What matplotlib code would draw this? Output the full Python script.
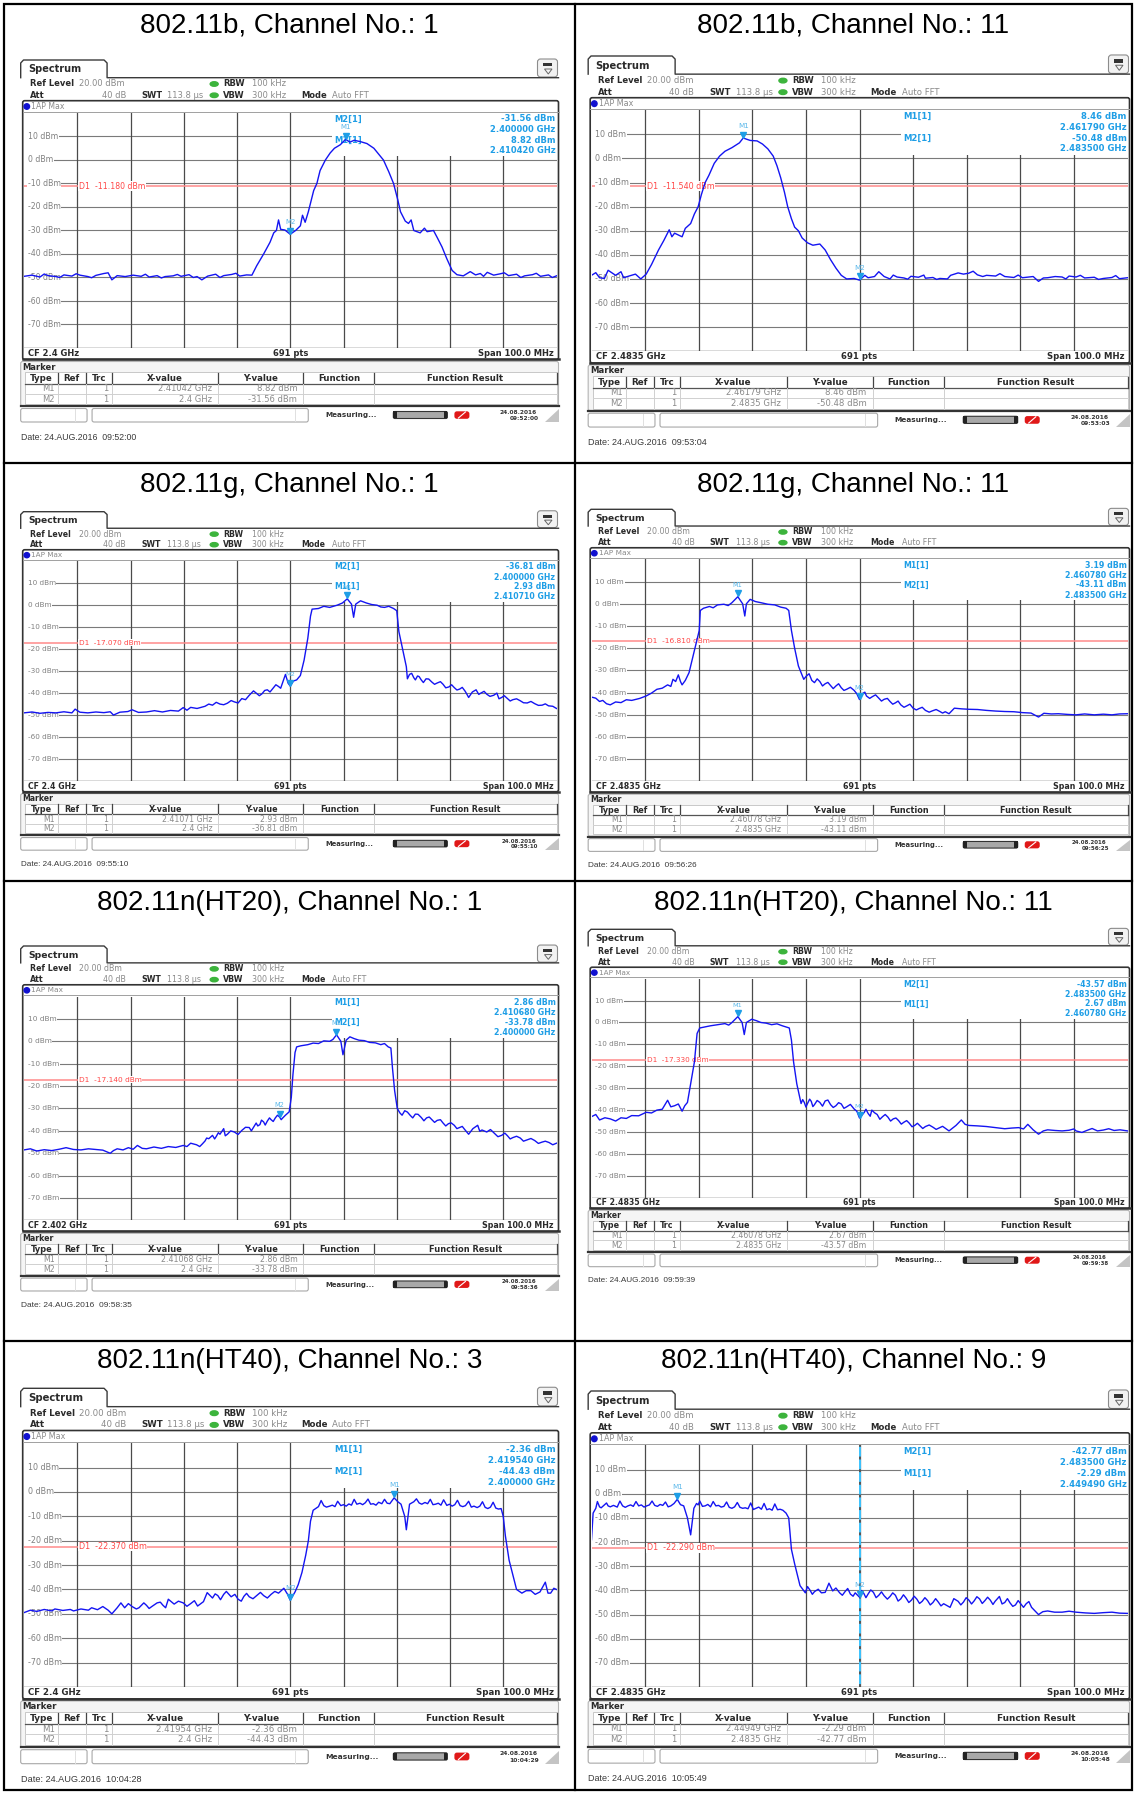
import numpy as np
import matplotlib
matplotlib.use('Agg')
import matplotlib.pyplot as plt
from matplotlib.patches import Rectangle, FancyBboxPatch, Polygon, Ellipse

W, H = 1136, 1794

# ---------------- measurement data ----------------
titles = ['802.11b, Channel No.: 1', '802.11b, Channel No.: 11',
          '802.11g, Channel No.: 1', '802.11g, Channel No.: 11',
          '802.11n(HT20), Channel No.: 1', '802.11n(HT20), Channel No.: 11',
          '802.11n(HT40), Channel No.: 3', '802.11n(HT40), Channel No.: 9']
cf_ghz = [2.4, 2.4835, 2.4, 2.4835, 2.402, 2.4835, 2.4, 2.4835]
cf_labels = ['CF 2.4 GHz', 'CF 2.4835 GHz', 'CF 2.4 GHz', 'CF 2.4835 GHz',
             'CF 2.402 GHz', 'CF 2.4835 GHz', 'CF 2.4 GHz', 'CF 2.4835 GHz']
d1_dbm = [-11.18, -11.54, -17.07, -16.81, -17.14, -17.33, -22.37, -22.29]
m1_ghz = [2.41042, 2.46179, 2.41071, 2.46078, 2.41068, 2.46078, 2.41954, 2.44949]
m1_dbm = [8.82, 8.46, 2.93, 3.19, 2.86, 2.67, -2.36, -2.29]
m2_ghz = [2.4, 2.4835, 2.4, 2.4835, 2.4, 2.4835, 2.4, 2.4835]
m2_dbm = [-31.56, -50.48, -36.81, -43.11, -33.78, -43.57, -44.43, -42.77]
info_first = ['M2', 'M1', 'M2', 'M1', 'M1', 'M2', 'M1', 'M2']
date_stamps = ['09:52:00', '09:53:04', '09:55:10', '09:56:26',
               '09:58:35', '09:59:39', '10:04:28', '10:05:49']
clock_stamps = ['09:52:00', '09:53:03', '09:55:10', '09:56:25',
                '09:58:36', '09:59:38', '10:04:29', '10:05:48']

# traces: (offset from CF in MHz, level in dBm)
trace_b1 = [(-50, -49.5), (-48.5, -49.0), (-47, -49.8), (-46.2, -48.5), (-45.5, -49.2), (-44, -49.6),
            (-43.3, -50.0), (-42.5, -48.9), (-41, -49.4), (-40.2, -48.4), (-39.5, -49.0), (-38, -49.6),
            (-37.3, -50.1), (-36.5, -49.1), (-35, -48.3), (-34.2, -48.0), (-33.5, -51.0), (-32.5, -49.2),
            (-31, -49.6), (-29.5, -49.0), (-28, -49.5), (-27.2, -48.6), (-26.5, -49.8), (-25, -49.2),
            (-24.2, -50.2), (-23.5, -49.6), (-22, -49.3), (-21.2, -48.7), (-20.5, -49.5), (-19, -48.8),
            (-18.2, -50.0), (-17.5, -49.6), (-16.6, -51.0), (-15.5, -49.4), (-14, -48.6), (-13.2, -50.0),
            (-12.5, -49.2), (-11, -48.7), (-10.2, -48.2), (-9.5, -49.4), (-8.2, -48.9), (-7.2, -49.0),
            (-6.3, -45.0), (-5.0, -40.0), (-3.8, -35.0), (-3.1, -31.0), (-2.6, -30.0), (-2.2, -25.5),
            (-1.8, -29.5), (-1.0, -29.8), (0, -31.6), (1.0, -30.0), (1.9, -28.0), (2.3, -23.5),
            (2.8, -26.5), (3.4, -22.0), (4.4, -13.0), (5.0, -10.0), (5.6, -4.5), (6.6, 0.0), (7.5, 3.0),
            (8.3, 5.0), (9.4, 6.5), (10.4, 8.8), (11.2, 7.6), (12.0, 8.4), (13.2, 7.8), (14.4, 7.0),
            (15.7, 5.0), (16.6, 2.5), (17.5, 0.0), (18.5, -5.0), (19.4, -10.0), (20.2, -17.0),
            (20.7, -22.0), (21.6, -26.0), (22.2, -27.0), (22.7, -25.5), (23.2, -30.0), (24.4, -31.0),
            (25.2, -29.0), (25.7, -30.5), (26.9, -30.0), (27.6, -33.0), (28.5, -37.0), (29.4, -42.0),
            (30.4, -47.0), (31.3, -48.8), (32.5, -49.3), (33.8, -47.5), (34.8, -48.9), (35.7, -48.3),
            (36.3, -49.5), (37, -47.8), (38.2, -49.0), (39.5, -48.4), (40.2, -48.0), (41, -49.2),
            (42.5, -48.6), (43.3, -50.0), (44, -49.3), (45.5, -48.8), (46.2, -48.2), (47, -49.5),
            (48.5, -48.9), (49.2, -50.0), (50, -49.3)]

trace_b11 = [(-50, -48.5), (-49.2, -47.4), (-48.5, -49.5), (-47.6, -49.8), (-46.9, -46.4), (-45.5, -48.5),
             (-44.5, -47.0), (-44, -49.5), (-43, -48.8), (-41.8, -48.0), (-40.8, -50.0), (-39.8, -48.0),
             (-38.8, -44.0), (-37.5, -38.0), (-36.5, -34.0), (-35.5, -29.6), (-35.0, -32.5), (-34.5, -31.0),
             (-33.1, -32.5), (-32.5, -29.0), (-31.5, -27.0), (-30.8, -23.0), (-30.1, -20.0), (-29.5, -15.0),
             (-28.8, -10.0), (-28.1, -7.0), (-27.1, -2.0), (-26.1, 1.0), (-25.1, 3.0), (-23.8, 4.5),
             (-22.4, 6.5), (-21.7, 8.5), (-20.4, 7.5), (-19.1, 7.3), (-18.1, 6.0), (-17.1, 4.0),
             (-16.1, 1.0), (-15.4, -3.0), (-14.7, -8.0), (-14.0, -14.0), (-13.4, -20.0), (-12.7, -25.0),
             (-12.1, -28.5), (-11.4, -30.0), (-10.7, -33.0), (-9.7, -35.0), (-8.7, -36.0), (-7.4, -35.5),
             (-6.4, -38.0), (-5.4, -42.0), (-4.4, -45.5), (-3.4, -48.5), (-2.4, -50.0), (-1.0, -49.8),
             (0, -50.5), (1.0, -48.5), (1.6, -49.5), (2.8, -49.0), (3.6, -47.0), (4.6, -49.0),
             (5.7, -50.0), (6.3, -48.4), (7, -49.2), (8.3, -49.6), (9.0, -50.1), (9.6, -48.9),
             (11, -49.3), (12.0, -48.4), (12.3, -49.7), (13.7, -49.4), (14.4, -50.2), (15, -49.8),
             (16.4, -50.0), (17, -48.5), (18.4, -47.5), (19.4, -48.0), (20.4, -47.6), (21.2, -46.8),
             (22, -48.3), (23, -49.0), (23.7, -48.5), (25.4, -48.8), (26.2, -47.8), (27.1, -49.0),
             (28.8, -49.4), (29.6, -48.4), (30.4, -49.5), (32.4, -49.0), (33.4, -51.0), (34.3, -49.6),
             (35.1, -49.5), (36.5, -49.0), (37.8, -49.2), (38.5, -50.0), (39.1, -48.8), (40.4, -49.2),
             (41.2, -48.5), (42, -49.6), (43.8, -49.3), (44.6, -50.2), (45.5, -49.8), (47.1, -49.4),
             (47.8, -48.6), (48.5, -49.9), (50, -49.5)]

trace_g1 = [(-50, -49.0), (-48.5, -48.6), (-47, -49.2), (-45.5, -48.8), (-44, -49.0), (-42.5, -48.5),
            (-41, -49.0), (-40.4, -47.3), (-39.5, -48.7), (-38, -49.0), (-36.5, -48.6), (-35, -48.9),
            (-33.8, -48.5), (-33.2, -50.0), (-32, -48.7), (-30.5, -48.4), (-29.7, -47.6), (-28.5, -48.8),
            (-27, -48.6), (-25.5, -48.0), (-24, -48.6), (-22.5, -47.9), (-21, -48.2), (-20.1, -46.6),
            (-19.4, -47.8), (-18.7, -46.5), (-17.5, -47.0), (-16, -46.0), (-15.3, -45.0), (-14.6, -45.5),
            (-13.9, -44.2), (-13.2, -45.0), (-12.5, -45.3), (-11.8, -44.6), (-11.1, -43.4), (-10.5, -44.0),
            (-9.8, -44.5), (-9.1, -42.5), (-8.4, -43.0), (-7.7, -41.0), (-6.9, -39.0), (-6.4, -40.0),
            (-5.8, -41.2), (-5.3, -40.3), (-4.8, -38.8), (-4.3, -38.5), (-3.8, -39.5), (-3.3, -38.0),
            (-2.7, -36.2), (-2.2, -37.0), (-1.8, -37.8), (-1.4, -35.0), (-0.9, -31.5), (-0.4, -35.5),
            (0, -36.8), (0.6, -34.5), (1.2, -34.0), (1.9, -32.0), (2.6, -25.0), (3.3, -15.0), (3.8, -5.0),
            (4.1, -1.8), (5.3, -1.5), (6.3, -0.5), (7.4, -1.0), (8.8, 0.0), (9.8, 1.0), (10.7, 2.9),
            (11.5, 0.5), (11.9, -5.5), (12.3, 0.5), (13.2, 2.0), (14.3, 1.0), (15.3, 0.3), (16.3, 0.0),
            (17.0, -0.8), (17.7, -1.0), (18.5, -0.5), (19.4, -1.5), (20.0, -2.5), (20.4, -12.0),
            (21.1, -20.0), (21.8, -28.0), (22.0, -33.5), (22.4, -31.5), (22.8, -31.0), (23.2, -33.0),
            (23.5, -34.0), (23.9, -32.2), (24.2, -32.5), (24.6, -34.0), (25.0, -35.2), (25.5, -33.5),
            (26.0, -33.6), (26.6, -35.0), (27.1, -36.0), (27.6, -35.4), (28.2, -34.8), (28.7, -36.0),
            (29.2, -37.6), (29.8, -37.2), (30.3, -36.2), (30.8, -37.5), (31.3, -38.6), (31.8, -38.2),
            (32.3, -37.4), (32.8, -39.0), (33.1, -40.2), (33.5, -42.0), (34.2, -39.5), (34.9, -38.5),
            (35.4, -40.6), (35.8, -40.0), (36.4, -39.2), (36.9, -40.5), (37.5, -41.5), (38.2, -41.0),
            (38.8, -40.0), (39.2, -42.6), (39.7, -42.0), (40.2, -41.2), (40.7, -42.3), (41.3, -43.6),
            (41.8, -43.0), (42.5, -42.6), (43.2, -43.5), (43.8, -44.4), (44.5, -44.5), (45.2, -43.8),
            (45.9, -44.8), (46.6, -45.6), (47.3, -45.5), (47.9, -44.9), (48.5, -45.8), (49.3, -46.0),
            (50, -47.0)]

trace_g11 = [(-50, -42.0), (-49.2, -42.5), (-48.5, -44.0), (-47.9, -43.5), (-47.2, -45.0), (-46.5, -45.5),
             (-45.5, -44.2), (-44.5, -44.5), (-43.5, -43.2), (-42.5, -43.5), (-41, -42.6), (-39.8, -41.5),
             (-38.8, -40.2), (-37.8, -38.5), (-36.8, -38.0), (-35.8, -36.5), (-35.2, -37.2), (-34.8, -34.0),
             (-34.3, -35.0), (-33.8, -32.0), (-33.4, -35.0), (-33.1, -36.5), (-32.5, -34.5), (-31.8, -31.0),
             (-31.1, -24.0), (-30.5, -18.0), (-29.9, -12.0), (-29.7, -3.0), (-29.1, -2.0), (-28, -1.2),
             (-27.3, -1.8), (-26.5, -0.5), (-25.3, -0.2), (-24.5, -0.8), (-23.8, 0.5), (-22.7, 3.2),
             (-21.8, 0.0), (-21.4, -5.5), (-21.1, 0.0), (-20.4, 2.0), (-19.4, 1.0), (-18.4, 0.5),
             (-17.1, -0.2), (-15.8, -0.5), (-14.7, -1.5), (-13.7, -2.0), (-13.2, -3.0), (-12.7, -12.0),
             (-12.1, -20.0), (-11.4, -28.0), (-10.4, -34.0), (-9.9, -32.5), (-9.4, -31.5), (-8.9, -34.5),
             (-8.4, -35.5), (-7.9, -33.8), (-7.4, -35.0), (-6.9, -37.0), (-6.4, -36.0), (-5.9, -35.4),
             (-5.4, -36.8), (-4.9, -38.2), (-4.4, -37.0), (-3.9, -36.0), (-3.4, -37.8), (-2.9, -39.0),
             (-2.4, -38.5), (-1.7, -37.6), (-1.0, -39.0), (-0.5, -40.5), (0, -43.1), (0.5, -40.5),
             (1.0, -39.8), (1.3, -41.5), (1.9, -42.6), (2.4, -41.8), (3.0, -41.0), (3.6, -42.5),
             (4.1, -43.8), (4.6, -43.0), (5.2, -42.6), (5.7, -44.0), (6.2, -45.2), (6.7, -44.6),
             (7.2, -43.8), (7.7, -45.5), (8.3, -46.6), (8.8, -46.0), (9.4, -45.2), (10, -47.0),
             (10.6, -47.8), (11.1, -47.2), (11.7, -46.6), (12.3, -48.0), (13.0, -48.8), (13.6, -48.2),
             (14.3, -47.6), (15, -48.5), (15.5, -49.2), (16, -48.6), (16.7, -49.5), (17.7, -47.0),
             (19.0, -47.3), (20.4, -47.5), (22, -47.6), (23.7, -48.0), (25.4, -48.3), (27.1, -48.5),
             (28.8, -48.6), (30.4, -49.0), (32, -49.2), (33.4, -51.0), (34.4, -49.3), (35.8, -49.6),
             (37.1, -49.5), (38.8, -49.8), (40.4, -50.0), (42, -49.6), (43.8, -50.0), (45.5, -49.7),
             (47.1, -50.0), (48.5, -49.6), (50, -49.5)]

trace_n20_1 = [(-50, -48.5), (-48.8, -48.0), (-47.6, -49.0), (-46.2, -48.4), (-44.8, -48.8), (-43.4, -48.2),
               (-42.1, -47.5), (-40.7, -48.3), (-39.3, -48.5), (-37.9, -48.0), (-36.6, -48.3), (-35.2, -48.6),
               (-33.8, -50.0), (-33.2, -48.8), (-32.5, -48.0), (-31.4, -48.5), (-30.4, -47.5), (-29.5, -48.2),
               (-28.7, -46.5), (-27.8, -47.8), (-27, -48.0), (-25.6, -47.2), (-24.2, -47.8), (-22.9, -47.0),
               (-21.5, -47.4), (-20.1, -46.5), (-19.4, -47.0), (-18.7, -45.5), (-17.6, -46.2), (-17, -47.0),
               (-16.5, -45.8), (-16, -44.5), (-15.7, -43.2), (-15.3, -43.5), (-14.6, -42.0), (-14.2, -43.6),
               (-13.9, -42.5), (-13.5, -40.8), (-13.2, -41.5), (-12.5, -39.0), (-12.2, -42.2), (-11.8, -41.5),
               (-11.2, -40.0), (-10.5, -40.5), (-9.8, -41.6), (-9.1, -39.8), (-8.4, -38.4), (-7.7, -38.5),
               (-7.3, -40.0), (-7.0, -38.8), (-6.4, -36.5), (-6.1, -37.8), (-5.7, -37.2), (-5.4, -35.2),
               (-5.0, -36.0), (-4.7, -37.4), (-4.3, -35.6), (-3.9, -34.2), (-3.6, -35.0), (-3.2, -35.8),
               (-2.8, -34.2), (-2.4, -33.0), (-2.0, -33.8), (-1.7, -35.0), (-1.4, -34.2), (-0.9, -33.0),
               (-0.2, -31.5), (0.2, -25.0), (0.5, -15.0), (0.9, -5.0), (1.2, -2.5), (2.0, -2.0), (3.3, -1.5),
               (4.3, -0.8), (5.3, -1.0), (6.3, 0.2), (7.4, 0.0), (8.0, 0.8), (8.7, 2.9), (9.5, 0.0),
               (9.9, -6.0), (10.5, 0.5), (11.2, 2.0), (12.0, 1.2), (12.9, 0.5), (13.9, 0.3), (14.9, -0.5),
               (16.0, -0.7), (17.0, -1.5), (17.7, -1.0), (18.4, -2.5), (18.9, -3.0), (19.2, -12.0),
               (19.6, -22.0), (20.1, -30.0), (20.6, -32.0), (21.0, -33.0), (21.5, -31.0), (22.0, -31.6),
               (22.5, -33.0), (23.0, -34.2), (23.5, -32.5), (24.0, -32.6), (24.6, -34.0), (25.1, -35.5),
               (25.6, -34.2), (26.1, -33.8), (26.6, -35.0), (27.1, -36.2), (27.6, -35.3), (28.2, -35.0),
               (28.7, -36.5), (29.2, -37.8), (29.7, -36.8), (30.2, -36.4), (30.8, -37.5), (31.3, -39.0),
               (31.8, -38.5), (32.3, -38.0), (32.8, -39.5), (33.5, -41.5), (34.3, -39.0), (35.2, -37.5),
               (35.6, -40.2), (36.0, -39.6), (36.9, -40.5), (37.6, -39.4), (38.3, -41.0), (39.0, -42.6),
               (39.7, -42.0), (40.3, -41.0), (40.8, -42.2), (41.3, -43.6), (41.8, -43.0), (42.5, -42.4),
               (43.2, -43.2), (43.8, -44.6), (44.5, -44.0), (45.2, -43.4), (45.9, -44.3), (46.6, -45.6),
               (47.3, -45.0), (47.9, -44.6), (48.6, -45.2), (49.3, -46.2), (50, -45.5)]

trace_n20_11 = [(-50, -43.0), (-49.2, -42.0), (-48.5, -44.5), (-47.5, -43.5), (-46.5, -44.0), (-45.5, -45.0),
                (-44.5, -43.5), (-43.5, -43.8), (-42.5, -42.5), (-41.2, -42.6), (-39.8, -41.0), (-38.8, -41.3),
                (-37.8, -40.0), (-36.8, -39.6), (-35.8, -35.5), (-35.2, -38.5), (-34.5, -38.0), (-33.8, -37.2),
                (-33.1, -40.5), (-32.6, -38.0), (-32.1, -36.5), (-31.5, -28.0), (-30.8, -18.0), (-30.3, -5.0),
                (-29.8, -2.5), (-28.8, -2.0), (-27.8, -1.5), (-26.5, -1.0), (-25.1, -0.5), (-24.4, -1.2),
                (-23.8, 0.0), (-22.7, 2.7), (-21.9, 0.0), (-21.5, -5.5), (-21.1, 0.0), (-20.1, 1.5),
                (-19.2, 0.8), (-18.4, 0.0), (-17.4, -0.3), (-16.4, -1.0), (-15.4, -0.6), (-14.4, -1.5),
                (-13.1, -2.5), (-12.7, -8.0), (-12.3, -18.0), (-11.7, -28.0), (-10.9, -37.0), (-10.6, -35.2),
                (-10.3, -36.5), (-10.0, -38.6), (-9.7, -37.0), (-9.3, -35.0), (-9.0, -36.0), (-8.7, -38.4),
                (-8.4, -37.5), (-7.9, -35.6), (-7.4, -36.5), (-6.9, -38.2), (-6.4, -35.8), (-5.9, -35.4),
                (-5.4, -37.5), (-4.9, -38.8), (-4.4, -38.0), (-3.9, -36.6), (-3.4, -37.2), (-2.9, -39.2),
                (-2.4, -38.5), (-1.7, -37.4), (-1.0, -39.5), (-0.5, -40.5), (0, -43.6), (0.9, -41.0),
                (1.2, -39.6), (1.6, -41.5), (2.0, -42.8), (2.3, -40.0), (2.8, -41.2), (3.3, -42.0),
                (3.8, -44.2), (4.3, -43.0), (4.8, -42.0), (5.3, -43.2), (5.8, -45.0), (6.3, -44.0),
                (6.8, -43.6), (7.3, -44.8), (7.8, -46.4), (8.3, -45.5), (8.8, -44.8), (9.3, -46.0),
                (9.8, -47.6), (10.3, -47.0), (10.8, -46.0), (11.3, -47.2), (11.8, -48.4), (12.3, -47.5),
                (13.0, -46.8), (13.7, -47.8), (14.3, -48.8), (15, -48.0), (15.5, -47.4), (16, -48.3),
                (16.7, -49.5), (18.0, -47.0), (19.0, -44.5), (19.7, -46.5), (20.4, -47.0), (22, -47.2),
                (23.7, -47.5), (25.4, -48.0), (27.1, -48.5), (28.4, -48.2), (29.7, -48.0), (30.6, -48.6),
                (31.4, -46.5), (32.4, -49.0), (33.4, -51.0), (34.3, -49.5), (35.1, -49.0), (36.5, -49.3),
                (37.8, -49.5), (39.1, -49.2), (40.0, -48.6), (40.4, -49.5), (41.5, -50.2), (42.4, -49.3),
                (43.4, -48.4), (44.4, -49.5), (45.5, -49.1), (46.5, -48.5), (47.5, -49.3), (48.6, -49.0),
                (50, -49.5)]

trace_n40_3 = [(-50, -49.5), (-48.8, -48.5), (-47.6, -49.0), (-46.2, -48.2), (-44.8, -48.8), (-44.2, -48.0),
               (-42.7, -48.6), (-41.3, -48.2), (-40.7, -48.8), (-39.3, -48.0), (-37.9, -48.5), (-37.3, -47.5),
               (-36.2, -48.3), (-35.2, -47.0), (-34.2, -48.5), (-33.5, -50.0), (-32.5, -47.5), (-31.8, -45.5),
               (-31.1, -47.5), (-30.4, -45.8), (-29.7, -47.0), (-28.9, -48.0), (-28.4, -47.5), (-27.5, -45.5),
               (-27, -46.5), (-26.5, -47.8), (-26, -47.0), (-25, -45.5), (-24.4, -45.2), (-23.9, -46.5),
               (-23.4, -47.5), (-22.9, -44.0), (-21.8, -46.0), (-21.0, -44.8), (-20.1, -45.5), (-19.4, -46.9),
               (-18.7, -45.8), (-18.0, -44.6), (-17.4, -46.8), (-16.3, -45.0), (-15.6, -41.3), (-14.6, -43.5),
               (-14.1, -41.8), (-13.6, -42.5), (-13.1, -44.2), (-12.5, -42.0), (-12.0, -40.8), (-11.1, -43.0),
               (-10.4, -42.0), (-9.8, -44.0), (-9.2, -44.8), (-8.7, -42.8), (-8.2, -41.6), (-7.7, -43.0),
               (-7.0, -43.8), (-6.3, -42.5), (-5.6, -41.2), (-5.0, -42.5), (-4.3, -43.5), (-3.6, -42.0),
               (-2.9, -40.8), (-2.2, -41.5), (-1.2, -39.5), (-0.5, -42.0), (0, -44.4), (0.9, -41.0),
               (1.5, -38.0), (2.2, -33.0), (2.9, -26.0), (3.4, -20.0), (3.8, -12.0), (4.3, -7.5),
               (5.3, -6.0), (5.8, -3.5), (6.3, -5.6), (6.8, -6.2), (7.4, -5.8), (7.9, -5.4), (8.4, -6.0),
               (8.9, -3.8), (9.5, -5.6), (10.0, -5.2), (10.5, -5.8), (11.0, -4.9), (11.5, -5.4), (12.0, -3.0),
               (12.5, -5.0), (13.1, -4.6), (13.6, -5.2), (14.1, -4.4), (14.6, -2.9), (15.1, -5.0),
               (15.6, -4.8), (16.1, -5.4), (16.6, -4.2), (17.2, -4.8), (17.7, -3.0), (18.2, -4.6),
               (18.7, -4.8), (19.5, -2.4), (20.2, -4.0), (20.8, -5.0), (21.5, -10.0), (21.8, -15.5),
               (22.4, -5.0), (23.2, -4.0), (23.7, -2.8), (24.2, -4.5), (24.7, -5.0), (25.3, -4.3),
               (25.8, -4.8), (26.3, -3.0), (26.8, -5.2), (27.3, -5.0), (27.8, -4.6), (28.3, -5.4),
               (28.8, -3.2), (29.4, -5.5), (29.9, -5.0), (30.4, -5.8), (30.9, -5.2), (31.4, -3.4),
               (31.9, -5.6), (32.4, -6.0), (32.9, -5.6), (33.5, -3.8), (34.0, -6.2), (34.5, -5.8),
               (35.1, -6.4), (35.6, -5.8), (36.1, -4.0), (36.6, -6.3), (37.1, -6.8), (37.6, -6.2),
               (38.1, -4.2), (38.6, -6.6), (39.1, -7.0), (39.6, -6.8), (40.0, -10.0), (40.4, -18.0),
               (41.1, -28.0), (41.8, -34.0), (42.5, -40.0), (43.5, -41.5), (44.3, -40.5), (45.2, -40.5),
               (46.0, -42.0), (46.9, -41.0), (47.9, -37.0), (48.4, -41.5), (48.9, -41.5), (49.5, -39.5),
               (50, -40.0)]

trace_n40_9 = [(-50, -19.0), (-49.7, -8.0), (-49.2, -6.0), (-48.9, -3.2), (-48.5, -5.4), (-48.2, -5.8),
               (-47.9, -5.2), (-47.2, -3.8), (-46.9, -5.0), (-46.5, -5.4), (-45.9, -4.8), (-45.2, -5.5),
               (-44.7, -3.0), (-44.2, -5.0), (-43.7, -5.6), (-43.2, -5.0), (-42.7, -4.6), (-42.2, -5.2),
               (-41.7, -3.2), (-41.2, -5.0), (-40.7, -4.6), (-40.2, -5.5), (-39.7, -5.0), (-39.2, -4.6),
               (-38.7, -3.0), (-38.2, -4.8), (-37.7, -5.2), (-37.2, -4.4), (-36.7, -4.8), (-36.2, -3.4),
               (-35.7, -5.4), (-35.2, -5.0), (-34.6, -4.0), (-34.0, -2.3), (-33.4, -4.5), (-32.8, -5.0),
               (-32.1, -10.0), (-31.5, -17.0), (-30.9, -6.0), (-30.4, -4.0), (-30.1, -4.6), (-29.8, -3.0),
               (-29.3, -5.2), (-28.8, -5.0), (-28.3, -4.4), (-27.8, -5.4), (-27.3, -3.2), (-26.8, -5.0),
               (-26.3, -4.8), (-25.8, -5.5), (-25.3, -5.2), (-24.8, -3.4), (-24.3, -5.6), (-23.8, -6.0),
               (-23.3, -5.4), (-22.8, -3.6), (-22.3, -5.6), (-21.8, -6.0), (-21.3, -5.8), (-20.8, -6.2),
               (-20.3, -3.8), (-19.8, -6.5), (-19.3, -6.0), (-18.8, -5.5), (-18.3, -6.4), (-17.8, -4.0),
               (-17.3, -6.6), (-16.8, -6.2), (-16.3, -6.8), (-15.8, -4.2), (-15.3, -6.6), (-14.8, -6.4),
               (-14.3, -6.8), (-13.7, -8.0), (-13.2, -10.0), (-12.7, -23.0), (-12.1, -29.0), (-11.1, -38.0),
               (-10.1, -41.0), (-9.7, -38.4), (-9.2, -40.0), (-8.8, -41.6), (-8.4, -40.5), (-7.7, -39.5),
               (-7.1, -41.0), (-6.4, -40.8), (-5.7, -37.0), (-5.0, -40.2), (-4.4, -39.0), (-3.7, -41.0),
               (-3.2, -42.0), (-2.7, -40.5), (-2.2, -39.2), (-1.7, -41.5), (-1.2, -42.4), (-0.8, -41.0),
               (0, -42.8), (0.4, -40.0), (0.8, -41.2), (1.2, -43.0), (1.6, -41.5), (2.1, -39.8),
               (2.6, -40.8), (3.1, -43.0), (3.6, -42.0), (4.1, -40.6), (4.6, -42.2), (5.2, -43.6),
               (5.7, -42.5), (6.2, -41.0), (6.7, -42.0), (7.2, -44.4), (7.7, -43.5), (8.2, -41.8),
               (8.7, -43.2), (9.2, -45.0), (9.7, -44.0), (10.2, -42.4), (10.7, -43.6), (11.2, -45.4),
               (11.7, -44.5), (12.2, -43.0), (12.7, -44.2), (13.2, -46.0), (13.7, -45.0), (14.2, -43.4),
               (14.7, -44.8), (15.2, -46.4), (15.7, -45.5), (16.9, -47.0), (17.6, -43.4), (18.4, -44.5),
               (18.9, -46.0), (19.4, -44.8), (19.9, -43.0), (20.4, -44.0), (20.9, -45.6), (21.4, -44.3),
               (21.9, -42.6), (22.4, -43.5), (22.9, -45.4), (23.4, -44.2), (23.9, -42.8), (24.4, -44.0),
               (24.9, -45.8), (25.3, -44.5), (26.1, -42.5), (26.6, -45.6), (27.1, -45.0), (27.6, -43.4),
               (28.1, -45.2), (28.6, -46.6), (29.1, -46.0), (29.6, -44.2), (30.1, -45.6), (30.6, -47.0),
               (31.1, -45.5), (31.6, -44.6), (32.1, -47.0), (33.4, -50.0), (34.2, -48.8), (35.1, -48.5),
               (36.4, -49.0), (37.8, -49.0), (39.1, -48.6), (40.4, -49.0), (42.1, -49.3), (43.8, -49.5),
               (45.5, -49.2), (47.1, -49.0), (48.5, -49.4), (50, -49.5)]

traces = [trace_b1, trace_b11, trace_g1, trace_g11,
          trace_n20_1, trace_n20_11, trace_n40_3, trace_n40_9]

# ---------------- page layout (pixels) ----------------
# per cell: grid left, grid width, tab top, vertical scale
LEFT_COL = (24.0, 532.5)
RIGHT_COL = (591.5, 536.0)
tab_tops = [60, 56, 511.7, 509.3, 946, 929.3, 1388.3, 1391]
vscale = [1.0, 1.025, 0.935, 0.945, 0.953, 0.932, 1.037, 1.028]
title_y = [25, 25, 485, 485, 903, 903, 1361, 1361]

TRACE = '#1414f2'
MARK = '#1e9ee6'
DARK = '#2a2a2a'
GRAY = '#8a8a8a'

fig = plt.figure(figsize=(W / 100, H / 100), dpi=100)
bg = fig.add_axes([0, 0, 1, 1])
bg.set_xlim(0, W)
bg.set_ylim(H, 0)
bg.axis('off')

# table lines
bg.add_patch(Rectangle((4, 4), W - 8, H - 8, fc='none', ec='black', lw=1.6))
bg.plot([575, 575], [4, H - 4], color='black', lw=1.6)
for yy in [463, 881, 1341]:
    bg.plot([4, W - 4], [yy, yy], color='black', lw=1.6)


def draw_screen(k):
    gl, gw = LEFT_COL if k % 2 == 0 else RIGHT_COL
    top, s = tab_tops[k], vscale[k]
    h = gw / 532.0
    gr = gl + gw

    def X(d):
        return gl + d * h

    def Y(d):
        return top + d * s

    def txt(x, y, t, size, **kw):
        kw.setdefault('va', 'center')
        bg.text(x, y, t, fontsize=size * s, **kw)

    cx = (4 + 575) / 2 if k % 2 == 0 else (575 + W - 4) / 2
    bg.text(cx, title_y[k], titles[k], fontsize=20, family='Liberation Sans',
            ha='center', va='center', color='black')

    # tab and its base line
    bg.plot([X(-3.3), X(-3.3), X(-0.5), X(80), X(83), X(83), gr + 2],
            [Y(17.7), Y(3), Y(0), Y(0), Y(3), Y(17.7), Y(17.7)],
            color='#3a3a3a', lw=1.0, solid_joinstyle='round')
    txt(X(4), Y(9.5), 'Spectrum', 7.0, weight='bold', color=DARK)

    # settings icon in the corner
    bg.add_patch(FancyBboxPatch((gr - 19, Y(-1)), 20, 18 * s,
                                boxstyle='round,pad=0,rounding_size=3',
                                fc='#f2f2f2', ec='#8c8c8c', lw=0.8))
    bg.add_patch(Rectangle((gr - 13.5, Y(3)), 9, 3.5 * s, fc='#333', ec='none'))
    bg.add_patch(Polygon([(gr - 12, Y(9)), (gr - 4.5, Y(9)), (gr - 8.2, Y(14))],
                         fc='none', ec='#666', lw=0.7))

    # instrument settings header
    for row, (a, av, b, bv) in enumerate([('Ref Level', '20.00 dBm', 'RBW', '100 kHz'),
                                          ('Att', '', 'VBW', '300 kHz')]):
        yy = Y(24 + row * 11.3)
        txt(X(6), yy, a, 6.0, weight='bold', color=DARK)
        if av:
            txt(X(55), yy, av, 6.0, color=GRAY)
        bg.add_patch(Ellipse((X(190), yy), 8, 4.5 * s, color='#3cb43c'))
        txt(X(199), yy, b, 6.0, weight='bold', color=DARK)
        txt(X(228), yy, bv, 6.0, color=GRAY)
    y2 = Y(35.3)
    txt(X(102), y2, '40 dB', 6.0, color=GRAY, ha='right')
    txt(X(117), y2, 'SWT', 6.0, weight='bold', color=DARK)
    txt(X(143), y2, '113.8 µs', 6.0, color=GRAY)
    txt(X(277), y2, 'Mode', 6.0, weight='bold', color=DARK)
    txt(X(308), y2, 'Auto FFT', 6.0, color=GRAY)

    # diagram frame
    bg.add_patch(FancyBboxPatch((X(-1.3), Y(40.7)), gr + 2 - X(-1.3), Y(299.5) - Y(40.7),
                                boxstyle='round,pad=0,rounding_size=2',
                                fc='none', ec='#333', lw=1.2))
    bg.plot([X(-1.3), gr + 2], [Y(299.5), Y(299.5)], color='#333', lw=1.8)
    bg.add_patch(Ellipse((X(2.8), Y(46.5)), 5.5, 5.5 * s, color='#1010d0'))
    txt(X(7), Y(46.5), '1AP Max', 5.6, color=GRAY)
    bg.plot([X(-1.3), gr + 2], [Y(51.7), Y(51.7)], color='#a0a0a0', lw=0.7)

    txt(X(4), Y(293.5), cf_labels[k], 6.0, weight='bold', color=DARK)
    txt((gl + gr) / 2, Y(293.5), '691 pts', 6.0, weight='bold', color=DARK, ha='center')
    txt(gr - 3, Y(293.5), 'Span 100.0 MHz', 6.0, weight='bold', color=DARK, ha='right')

    # marker table
    bg.add_patch(FancyBboxPatch((X(-3.3), Y(301.5)), gr + 2 - X(-3.3), Y(346) - Y(301.5),
                                boxstyle='round,pad=0,rounding_size=2',
                                fc='#f5f5f5', ec='#b4b4b4', lw=0.8))
    bg.plot([X(-3.3), gr + 2], [Y(346.3), Y(346.3)], color='#333', lw=1.6)
    txt(X(-1.5), Y(307), 'Marker', 6.0, weight='bold', color=DARK)
    bg.add_patch(Rectangle((X(1), Y(312.5)), gr - X(1), Y(344) - Y(312.5),
                           fc='white', ec='#c8c8c8', lw=0.7))
    bg.plot([X(1), gr], [Y(323.6), Y(323.6)], color='#555', lw=0.9)
    bg.plot([X(1), gr], [Y(333.8), Y(333.8)], color='#d0d0d0', lw=0.7)
    for c in [34, 62, 88, 194, 279, 350]:
        bg.plot([X(c), X(c)], [Y(313), Y(323.6)], color='#444', lw=0.9)
        bg.plot([X(c), X(c)], [Y(323.6), Y(344)], color='#d0d0d0', lw=0.7)
    bg.plot([gr, gr], [Y(313), Y(323.6)], color='#444', lw=0.9)
    heads = [('Type', 17.7), ('Ref', 47.7), ('Trc', 75), ('X-value', 141),
             ('Y-value', 236.7), ('Function', 315)]
    for name, c in heads:
        txt(X(c), Y(318.3), name, 6.2, weight='bold', color=DARK, ha='center')
    txt((X(350) + gr) / 2, Y(318.3), 'Function Result', 6.2, weight='bold',
        color=DARK, ha='center')
    for r, (nm, fg, lv) in enumerate([('M1', m1_ghz[k], m1_dbm[k]),
                                      ('M2', m2_ghz[k], m2_dbm[k])]):
        yy = Y(328.7 + r * 10.4)
        txt(X(31), yy, nm, 6.0, color=GRAY, ha='right')
        txt(X(84), yy, '1', 6.0, color=GRAY, ha='right')
        txt(X(188), yy, f'{fg:g} GHz', 6.0, color=GRAY, ha='right')
        txt(X(273), yy, f'{lv:.2f} dBm', 6.0, color=GRAY, ha='right')

    # status bar
    sy0, sy1 = Y(348.5), Y(362)
    for a, b, d in [(-3.3, 63, 51), (68, 284, 271)]:
        bg.add_patch(FancyBboxPatch((X(a), sy0), X(b) - X(a), sy1 - sy0,
                                    boxstyle='round,pad=0,rounding_size=2',
                                    fc='white', ec='#a8a8a8', lw=0.8))
        bg.plot([X(d), X(d)], [sy0 + 1, sy1 - 1], color='#e0e0e0', lw=0.7)
    txt(X(301), Y(355.2), 'Measuring...', 5.2, weight='bold', color='#333')
    bg.add_patch(FancyBboxPatch((X(369), Y(351.5)), X(423) - X(369), 7 * s,
                                boxstyle='round,pad=0,rounding_size=1.5',
                                fc='#a8a8a8', ec='#333', lw=0.8))
    bg.add_patch(Rectangle((X(369), Y(351.5)), 3.5, 7 * s, fc='#222', ec='none'))
    bg.add_patch(Rectangle((X(419.5), Y(351.5)), 3.5, 7 * s, fc='#222', ec='none'))
    bg.add_patch(FancyBboxPatch((X(430), Y(351.3)), 15, 7.5 * s,
                                boxstyle='round,pad=0,rounding_size=2.5',
                                fc='#e01818', ec='none'))
    bg.plot([X(434), X(441)], [Y(358), Y(352)], color='white', lw=0.8)
    txt(X(494), Y(352.2), '24.08.2016', 4.2, weight='bold', color='#333', ha='center')
    txt(X(500), Y(358.6), clock_stamps[k], 4.2, weight='bold', color='#333', ha='center')
    bg.add_patch(Polygon([(gr + 2, Y(349.5)), (gr + 2, sy1), (gr - 12, sy1)],
                         fc='#c4c4c4', ec='none'))

    txt(X(-3), Y(377), 'Date: 24.AUG.2016  ' + date_stamps[k], 6.3,
        family='Liberation Sans', color='#3a3a3a')

    # ---- trace diagram, in MHz / dBm ----
    yt, yb = Y(53), Y(288)
    ax = fig.add_axes([gl / W, 1 - yb / H, gw / W, (yb - yt) / H])
    ax.set_xlim(-50, 50)
    ax.set_ylim(-80, 20)
    ax.axis('off')
    for lv in range(-70, 20, 10):
        ax.axhline(lv, color='#7a7a7a', lw=0.8, zorder=1)
    for f in range(-40, 50, 10):
        ax.axvline(f, color='#4a4a4a', lw=0.9, zorder=1)
    ax.axhline(-80, color='#444', lw=1.0, zorder=1)
    ax.add_patch(Rectangle((7.8, 1.5), 42.5, 18.5, fc='white', ec='none', zorder=2))
    for lv in range(-70, 20, 10):
        # the level line starts just after its label
        ax.add_patch(Rectangle((-50.5, lv - 1.2), 1.4, 2.4, fc='white', ec='none', zorder=2.2))
        ax.text(-49.3, lv, f'{lv} dBm', fontsize=5.6 * s, color='#808080',
                va='center', ha='left', zorder=3,
                bbox=dict(fc='white', ec='none', pad=0.4))

    ax.axhline(d1_dbm[k], color='#ff8a8a', lw=1.1, zorder=2.5)
    ax.text(-39.7, d1_dbm[k], f'D1  {d1_dbm[k]:.3f} dBm', fontsize=5.6 * s,
            color='#ff4646', va='center', ha='left', zorder=3,
            bbox=dict(fc='white', ec='none', pad=0.3))

    # marker readout block
    mk = {'M1': (m1_ghz[k], m1_dbm[k]), 'M2': (m2_ghz[k], m2_dbm[k])}
    order = [info_first[k], 'M1' if info_first[k] == 'M2' else 'M2']
    rows_y = [17.45, 12.77, 8.51, 3.96]
    for j, nm in enumerate(order):
        fg, lv = mk[nm]
        ax.text(8.2, rows_y[2 * j], f'{nm}[1]', fontsize=6.0 * s, weight='bold',
                color=MARK, va='center', ha='left', zorder=3)
        ax.text(49.8, rows_y[2 * j], f'{lv:.2f} dBm', fontsize=6.0 * s, weight='bold',
                color=MARK, va='center', ha='right', zorder=3)
        ax.text(49.8, rows_y[2 * j + 1], f'{fg:.6f} GHz', fontsize=6.0 * s, weight='bold',
                color=MARK, va='center', ha='right', zorder=3)

    if k == 7:
        xm = (m2_ghz[k] - cf_ghz[k]) * 1000
        ax.axvline(xm, color='#3cc4ff', lw=1.4, zorder=3.5)
        ax.axvline(xm, color='#555', lw=1.4, dashes=(1.5, 5), zorder=3.6)

    f, lvl = np.array(sorted(traces[k])).T
    ax.plot(f, lvl, color=TRACE, lw=1.0, zorder=4)

    for nm, (fg, lv) in mk.items():
        xm = (fg - cf_ghz[k]) * 1000
        ax.plot(xm, lv + 1.5, marker='v', ms=4.5, color=MARK, zorder=5, clip_on=False)
        ax.text(xm, lv + 5.2, nm, fontsize=5.0 * s, color='#5bb8ea',
                ha='center', va='center', zorder=5)


for k in range(8):
    draw_screen(k)

fig.savefig('out.png', dpi=100, facecolor='white')
